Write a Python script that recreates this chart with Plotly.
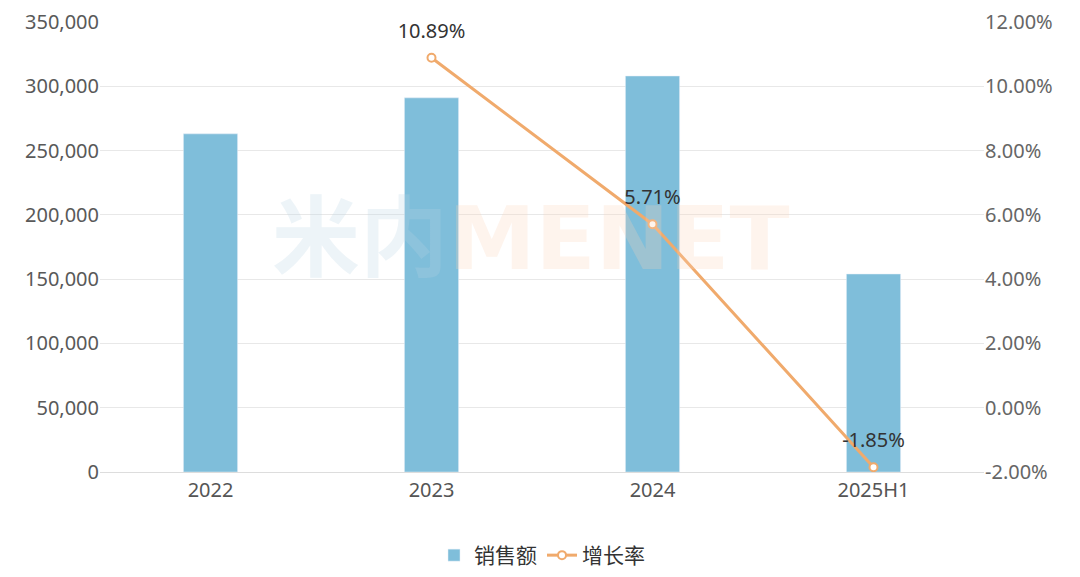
import plotly.graph_objects as go

categories = ["2022", "2023", "2024", "2025H1"]
sales = [263000, 291000, 308000, 154000]
growth_cats = ["2023", "2024", "2025H1"]
growth = [10.89, 5.71, -1.85]
left_ticks = [0, 50000, 100000, 150000, 200000, 250000, 300000, 350000]
right_ticks = [-2, 0, 2, 4, 6, 8, 10, 12]

FONT = "Noto Sans, Noto Sans CJK SC, sans-serif"

fig = go.Figure()
fig.add_trace(go.Bar(
    x=categories, y=sales, name="销售额",
    marker=dict(color="#7FBEDA"), width=0.245,
))
fig.add_trace(go.Scatter(
    x=growth_cats, y=growth, name="增长率", yaxis="y2",
    mode="lines+markers",
    line=dict(color="#F0AA6C", width=3),
    marker=dict(symbol="circle", size=8, color="white", line=dict(color="#F0AA6C", width=2)),
))
# value labels: invisible larger markers push the text a bit higher above each point
fig.add_trace(go.Scatter(
    x=growth_cats, y=growth, yaxis="y2", mode="markers+text", showlegend=False,
    hoverinfo="skip",
    marker=dict(size=22, color="rgba(0,0,0,0)"),
    text=[f"{v:.2f}%" for v in growth], textposition="top center",
    textfont=dict(size=20, color="#333333", family=FONT),
))

# faint watermark (single text, two colours)
fig.add_annotation(
    x=0.487, y=0.52, xref="paper", yref="paper",
    text=("<b><span style='color:rgba(185,212,226,0.25)'>米内</span>"
          "<span style='color:rgba(250,212,185,0.25)'>MENET</span></b>"),
    showarrow=False, font=dict(size=88, family="DejaVu Sans, Noto Sans CJK SC"),
)

# page body has an 8px default margin; compensate so plot area sits at x 100-984, y 22-472
fig.update_layout(
    width=1072, height=569,
    margin=dict(l=92, r=96, t=14, b=105, autoexpand=False),
    paper_bgcolor="white", plot_bgcolor="white",
    font=dict(family=FONT, size=20, color="#595959"),
    showlegend=True,
    legend=dict(orientation="h", x=0.5, xanchor="center", y=-0.14, yanchor="top",
                font=dict(size=21, color="#333333", family="Noto Sans CJK SC")),
    xaxis=dict(type="category", showgrid=False, showline=True, linecolor="#dddddd", ticks="",
               automargin=False, tickfont=dict(size=20, color="#555555")),
    yaxis=dict(range=[0, 350000], tickvals=left_ticks, tickformat=",d",
               showgrid=True, gridcolor="#e8e8e8", zeroline=False, automargin=False,
               tickfont=dict(size=20, color="#595959"), ticks=""),
    yaxis2=dict(range=[-2, 12], tickvals=right_ticks,
                ticktext=[f"{v:.2f}%" for v in right_ticks],
                overlaying="y", side="right", showgrid=False, zeroline=False,
                automargin=False, tickfont=dict(size=20, color="#666666")),
    bargap=0.5,
)

fig.write_html("out.html")
